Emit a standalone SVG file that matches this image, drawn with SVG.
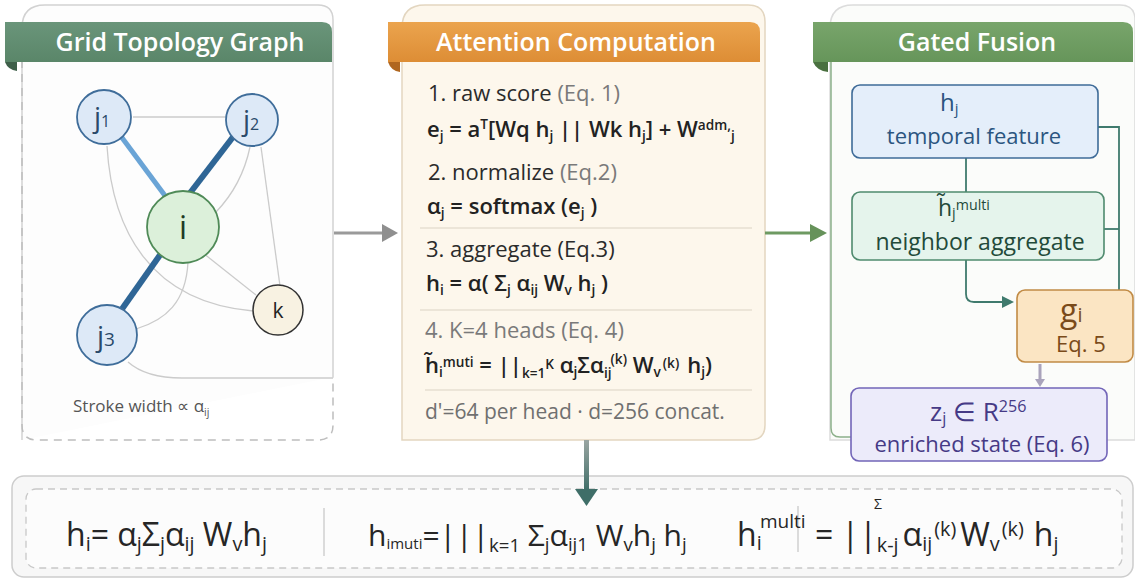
<svg xmlns="http://www.w3.org/2000/svg" width="1135" height="580" viewBox="0 0 1135 580">
<style>
text{font-family:"Open Sans","Noto Sans","Liberation Sans",sans-serif;}
.title{font-size:25px;font-weight:600;fill:#ffffff;text-anchor:middle;}
.step{font-size:22px;fill:#2b2b2b;}
.gray{fill:#7a7a7a;}
.eq{font-size:22px;font-weight:600;fill:#222;}
.s{font-size:0.62em;}
.thin{fill:none;stroke:#cbcbcb;stroke-width:1.3;}
.jn{fill:#dde9f7;stroke:#3f6d9a;stroke-width:1.8;}
.jl{font-size:28px;fill:#2a4a6a;text-anchor:middle;}
.sep{stroke:#dcd3c4;stroke-width:1.2;}
.conn{fill:none;stroke:#3f7a6d;stroke-width:1.8;}
.btm{font-size:32px;fill:#262626;}
</style>
<defs>
<linearGradient id="gOr" x1="0" y1="0" x2="0" y2="1"><stop offset="0" stop-color="#eba44e"/><stop offset="1" stop-color="#dd8d35"/></linearGradient>
<linearGradient id="gGr1" x1="0" y1="0" x2="0" y2="1"><stop offset="0" stop-color="#6a957a"/><stop offset="1" stop-color="#5a8669"/></linearGradient>
<linearGradient id="gGr2" x1="0" y1="0" x2="0" y2="1"><stop offset="0" stop-color="#78a56b"/><stop offset="1" stop-color="#66955a"/></linearGradient>
<linearGradient id="gDown" x1="0" y1="0" x2="0" y2="1"><stop offset="0" stop-color="#9aa5a2"/><stop offset="1" stop-color="#3f6e68"/></linearGradient>
</defs>

<!-- Left panel -->
<g id="panel-grid">
<path d="M22,440 L22,28 Q22,5 45,5 L318,5 Q333,5 333,20 L333,377" fill="#fdfdfd" stroke="#d2d2d2" stroke-width="1.5"/>
<path d="M22,60 L22,425 Q22,440 37,440 L318,440 Q333,440 333,425 L333,377" fill="none" stroke="#bdbdbd" stroke-width="1.5" stroke-dasharray="8 6"/>
<path d="M5,22 L322,22 Q332,22 332,32 L332,62 L5,62 Z" fill="url(#gGr1)"/>
<path d="M5,62 L17,62 L17,71 Q8,70 5,62 Z" fill="#3e5f49"/>
<text class="title" x="180" y="51">Grid Topology Graph</text>
<text x="73" y="412" style="font-size:17px;fill:#555">Stroke width ∝ α<tspan class="s" dy="4">ij</tspan></text>
</g>

<g id="graph-edges">
<line class="thin" x1="133" y1="117" x2="226" y2="117"/>
<path class="thin" d="M107,146 C112,230 150,302 253,311"/>
<line class="thin" x1="261" y1="147" x2="280" y2="286"/>
<path class="thin" d="M250,147 Q242,185 216,212"/>
<line class="thin" x1="203" y1="253" x2="256" y2="295"/>
<path class="thin" d="M188,262 C186,302 166,320 136,329"/>
<path class="thin" d="M128,362 Q146,378 182,378 L333,378"/>
<line x1="120" y1="135" x2="166" y2="197" stroke="#6aa4d6" stroke-width="5"/>
<line x1="233" y1="137" x2="190" y2="193" stroke="#2f6696" stroke-width="6"/>
<line x1="160" y1="255" x2="122" y2="309" stroke="#2f6696" stroke-width="6"/>
</g>

<g id="node-j1"><circle class="jn" cx="104" cy="117" r="27"/><text class="jl" x="102" y="127">j<tspan style="font-size:16px">1</tspan></text></g>
<g id="node-j2"><circle class="jn" cx="252" cy="120" r="26"/><text class="jl" x="251" y="130">j<tspan style="font-size:16px">2</tspan></text></g>
<g id="node-j3"><circle class="jn" cx="107" cy="335" r="30"/><text class="jl" x="106" y="346">j<tspan style="font-size:19px">3</tspan></text></g>
<g id="node-i"><circle cx="183" cy="227" r="36" fill="#dcf0da" stroke="#4f8a57" stroke-width="1.8"/><text x="183" y="239" style="font-size:32px;fill:#1f3a25;text-anchor:middle">i</text></g>
<g id="node-k"><circle cx="278" cy="310" r="25" fill="#f8f2e2" stroke="#333" stroke-width="1.5"/><text x="278" y="318" style="font-size:21px;fill:#222;text-anchor:middle">k</text></g>

<!-- Middle panel -->
<g id="panel-attention">
<path d="M402,440 L402,28 Q402,5 425,5 L748,5 Q765,5 765,22 L765,425 Q765,440 750,440 Z" fill="#fdf7ec" stroke="#e3d6c0" stroke-width="1.5"/>
<path d="M388,22 L750,22 Q760,22 760,32 L760,62 L388,62 Z" fill="url(#gOr)"/>
<path d="M388,62 L400,62 L400,72 Q391,71 388,62 Z" fill="#b0661f"/>
<text class="title" x="576" y="51">Attention Computation</text>
<text class="step" x="428" y="101">1. raw score <tspan class="gray">(Eq. 1)</tspan></text>
<text class="eq" x="427" y="137">e<tspan class="s" dy="4">j</tspan><tspan dy="-4"> = a</tspan><tspan class="s" dy="-8">T</tspan><tspan dy="8">[Wq h</tspan><tspan class="s" dy="4">j</tspan><tspan dy="-4"> || Wk h</tspan><tspan class="s" dy="4">j</tspan><tspan dy="-4">] + W</tspan><tspan class="s" dy="-7">adm,</tspan><tspan class="s" dy="11">j</tspan></text>
<text class="step" x="428" y="180">2. normalize <tspan class="gray">(Eq.2)</tspan></text>
<text class="eq" x="427" y="214">α<tspan class="s" dy="4">j</tspan><tspan dy="-4"> = softmax (e</tspan><tspan class="s" dy="4">j</tspan><tspan dy="-4"> )</tspan></text>
<line class="sep" x1="420" y1="228" x2="752" y2="228"/>
<text class="step" x="426" y="257">3. aggregate (Eq.3)</text>
<text class="eq" x="426" y="291">h<tspan class="s" dy="4">i</tspan><tspan dy="-4"> = α( Σ</tspan><tspan class="s" dy="4">j</tspan><tspan dy="-4"> α</tspan><tspan class="s" dy="4">ij</tspan><tspan dy="-4"> W</tspan><tspan class="s" dy="4">v</tspan><tspan dy="-4"> h</tspan><tspan class="s" dy="4">j</tspan><tspan dy="-4">  )</tspan></text>
<line class="sep" x1="420" y1="310" x2="752" y2="310"/>
<text class="step gray" x="425" y="338">4. K=4 heads (Eq. 4)</text>
<text class="eq" x="425" y="373">h̃<tspan class="s" dy="4">i</tspan><tspan class="s" dy="-10">muti</tspan><tspan dy="6"> = ||</tspan><tspan class="s" dy="5">k=1</tspan><tspan class="s" dy="-9">K</tspan><tspan dy="4"> α</tspan><tspan class="s" dy="4">j</tspan><tspan dy="-4">Σα</tspan><tspan class="s" dy="5">ij</tspan><tspan class="s" dx="-1" dy="-14">(k)</tspan><tspan dy="9"> W</tspan><tspan class="s" dy="4">v</tspan><tspan class="s" dx="2" dy="-9">(k)</tspan><tspan dx="8" dy="5">h</tspan><tspan class="s" dy="4">j</tspan><tspan dy="-4">)</tspan></text>
<line class="sep" x1="425" y1="390" x2="752" y2="390"/>
<text x="425" y="419" style="font-size:21px;fill:#707070">d'=64 per head · d=256 concat.</text>
</g>

<!-- Right panel -->
<g id="panel-fusion">
<path d="M830,440 L830,28 Q830,5 853,5 L1120,5 Q1135,5 1135,20 L1135,440 Z" fill="#fbfcfa" stroke="#dcdcdc" stroke-width="1.5"/>
<path d="M831,62 L831,428 Q831,437 840,437 L852,437" fill="none" stroke="#8cb08a" stroke-width="1.5"/>
<path d="M813,22 L1123,22 Q1133,22 1133,32 L1133,62 L813,62 Z" fill="url(#gGr2)"/>
<path d="M813,62 L828,62 L828,72 Q817,71 813,62 Z" fill="#4a7040"/>
<text class="title" x="977" y="51">Gated Fusion</text>
</g>

<!-- Bottom panel -->
<g id="panel-formulas">
<rect x="12" y="476" width="1121" height="101" rx="12" fill="#f7f7f7" stroke="#cdcdcd" stroke-width="1.5"/>
<rect x="26" y="489" width="1096" height="79" rx="10" fill="#fcfcfc" stroke="#c8c8c8" stroke-width="1.3" stroke-dasharray="7 5"/>
<line x1="324" y1="508" x2="324" y2="556" stroke="#d0d0d0" stroke-width="1.5"/>
<line x1="798" y1="506" x2="798" y2="552" stroke="#d0d0d0" stroke-width="1.5"/>
<text class="btm" x="66" y="546">h<tspan class="s" dy="5">i</tspan><tspan dy="-5">= α</tspan><tspan class="s" dy="5">j</tspan><tspan dy="-5">Σ</tspan><tspan class="s" dy="5">j</tspan><tspan dy="-5">α</tspan><tspan class="s" dy="5">ij</tspan><tspan dy="-5"> W</tspan><tspan class="s" dy="5">v</tspan><tspan dy="-5">h</tspan><tspan class="s" dy="5">j</tspan></text>
<text class="btm" x="368" y="546" style="font-size:30px">h<tspan style="font-size:15px" dy="3">imuti</tspan><tspan dy="-3">=|||</tspan><tspan class="s" dy="6">k=1</tspan><tspan dy="-6"> Σ</tspan><tspan class="s" dy="5">j</tspan><tspan dy="-5">α</tspan><tspan class="s" dy="5">ij1</tspan><tspan dy="-5"> W</tspan><tspan class="s" dy="5">v</tspan><tspan dy="-5">h</tspan><tspan class="s" dy="5">j</tspan><tspan dy="-5"> h</tspan><tspan class="s" dy="5">j</tspan></text>
<text class="btm" x="737" y="546">h<tspan class="s" dy="4">i</tspan></text>
<text x="760" y="528" style="font-size:19px;fill:#262626">multi</text>
<text class="btm" x="815" y="546">= ||<tspan class="s" dy="6">k-j</tspan><tspan dx="4" dy="-6">α</tspan><tspan class="s" dy="5">ij</tspan><tspan class="s" dx="2" dy="-15">(k)</tspan><tspan dx="4" dy="10">W</tspan><tspan class="s" dy="5">v</tspan><tspan class="s" dx="2" dy="-15">(k)</tspan><tspan dx="10" dy="10">h</tspan><tspan class="s" dy="5">j</tspan></text>
<text x="874" y="509" style="font-size:14px;fill:#262626">Σ</text>
</g>

<g id="connectors">
<line x1="334" y1="233" x2="384" y2="233" stroke="#9a9a9a" stroke-width="3"/>
<polygon points="382,224 398,233 382,242" fill="#8f8f8f"/>
<line x1="765" y1="233" x2="812" y2="233" stroke="#6e9a62" stroke-width="3"/>
<polygon points="810,224 827,233 810,242" fill="#66925a"/>
<rect x="584" y="440" width="5" height="51" fill="url(#gDown)"/>
<polygon points="575,489 598,489 586.5,506" fill="#3f6e68"/>
<line class="conn" x1="966" y1="158" x2="966" y2="192"/>
<path class="conn" d="M1098,127 L1119,127 L1119,290"/>
<line class="conn" x1="1104" y1="229" x2="1119" y2="229"/>
<path class="conn" d="M966,260 L966,294 Q966,302 974,302 L1004,302"/>
<polygon points="1002,296 1014,302 1002,308" fill="#3f7a6d"/>
<line x1="1040" y1="364" x2="1040" y2="381" stroke="#a9a3bb" stroke-width="3"/>
<polygon points="1035,379 1045,379 1040,387" fill="#a9a3bb"/>
</g>

<g id="node-hj">
<rect x="852" y="85" width="246" height="73" rx="8" fill="#e4eefa" stroke="#3e6b98" stroke-width="1.6"/>
<text x="940" y="111" style="font-size:24px;fill:#2b5580">h<tspan class="s" dy="3">j</tspan></text>
<text x="974" y="144" style="font-size:22px;fill:#2b5580;text-anchor:middle">temporal feature</text>
</g>
<g id="node-hmulti">
<rect x="852" y="192" width="252" height="68" rx="8" fill="#e5f4ec" stroke="#4f8a6e" stroke-width="1.6"/>
<text x="938" y="216" style="font-size:23px;fill:#234a3a">h̃<tspan class="s" dy="2">j</tspan><tspan class="s" dy="-8">multi</tspan></text>
<text x="980" y="250" style="font-size:23px;fill:#234a3a;text-anchor:middle">neighbor aggregate</text>
</g>
<g id="node-g">
<rect x="1017" y="290" width="116" height="72" rx="8" fill="#fbe5c3" stroke="#c18b45" stroke-width="1.6"/>
<text x="1060" y="322" style="font-size:32px;fill:#7a4b1a">g<tspan style="font-size:20px">i</tspan></text>
<text x="1081" y="352" style="font-size:22px;fill:#7a4b1a;text-anchor:middle">Eq. 5</text>
</g>
<g id="node-z">
<rect x="851" y="388" width="256" height="73" rx="8" fill="#ecebfa" stroke="#7265b8" stroke-width="1.6"/>
<text x="930" y="421" style="font-size:26px;fill:#463a86">z<tspan class="s" dy="3">j</tspan><tspan dy="-3"> ∈ R</tspan><tspan class="s" dy="-9">256</tspan></text>
<text x="982" y="452" style="font-size:22px;fill:#463a86;text-anchor:middle">enriched state (Eq. 6)</text>
</g>
</svg>
